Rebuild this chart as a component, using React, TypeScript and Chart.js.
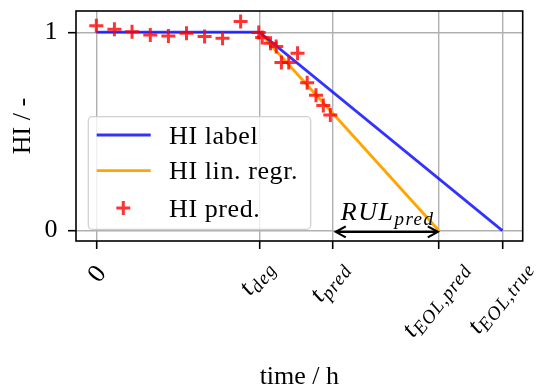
import React, { useEffect, useRef } from 'react';
import { Chart, registerables } from 'chart.js';

Chart.register(...registerables);

// ---- data ----
const T_DEG = 100;
const T_PRED = 145;
const T_EOL_PRED = 210;
const T_EOL_TRUE = 249;

const xTickValues = [0, T_DEG, T_PRED, T_EOL_PRED, T_EOL_TRUE];
const xTickMain = ['0', 't', 't', 't', 't'];
const xTickSub = ['', 'deg', 'pred', 'EOL,pred', 'EOL,true'];
const yTickValues = [0, 1];

const labelLineX = [0, T_DEG, T_EOL_TRUE];
const labelLineY = [1, 1, 0];
const regrLineX = [T_DEG, T_EOL_PRED];
const regrLineY = [1, 0];
const predX = [0, 11.1, 21.9, 33.1, 44.2, 55.3, 66.4, 77.4, 88.5, 99.6, 101.7, 106.8, 110.3, 113.5, 118.0, 123.4, 129.3, 134.7, 139.2, 143.5];
const predY = [1.032, 1.015, 1.003, 0.986, 0.981, 0.995, 0.978, 0.970, 1.054, 0.998, 0.973, 0.944, 0.928, 0.847, 0.847, 0.894, 0.745, 0.682, 0.631, 0.583];

const seriesLabels = ['HI label', 'HI lin. regr.', 'HI pred.'];
const rulArrowX = [T_PRED, T_EOL_PRED];
const rulArrowY = 0;
const rulMain = 'RUL';
const rulSub = 'pred';
const xTitle = 'time / h';
const yTitle = 'HI / -';

const X_MIN = -12.45;
const X_MAX = 261.45;
const Y_MIN = -0.0527;
const Y_MAX = 1.107;

// ---- style ----
const FONT = '"Liberation Serif", "Times New Roman", serif';
const FS = 26;
const SUB_FS = 19;
const ROT = (52 * Math.PI) / 180;
const BLUE = 'rgba(0,0,255,0.8)';
const ORANGE = '#FFA500';
const RED = 'rgba(255,0,0,0.8)';

function roundRect(ctx: CanvasRenderingContext2D, x: number, y: number, w: number, h: number, r: number) {
  ctx.beginPath();
  ctx.moveTo(x + r, y);
  ctx.lineTo(x + w - r, y);
  ctx.arcTo(x + w, y, x + w, y + r, r);
  ctx.lineTo(x + w, y + h - r);
  ctx.arcTo(x + w, y + h, x + w - r, y + h, r);
  ctx.lineTo(x + r, y + h);
  ctx.arcTo(x, y + h, x, y + h - r, r);
  ctx.lineTo(x, y + r);
  ctx.arcTo(x, y, x + r, y, r);
  ctx.closePath();
}

function setSpacing(ctx: any, v: string) {
  try { ctx.letterSpacing = v; } catch (e) { /* ignore */ }
}

const customPlugin = {
  id: 'customDecor',
  afterDatasetsDraw(chart: any) {
    const { ctx, chartArea: ca } = chart;
    const xs = chart.scales.x;
    const ys = chart.scales.y;
    ctx.save();
    // frame
    ctx.strokeStyle = '#000';
    ctx.lineWidth = 1.6;
    ctx.strokeRect(ca.left, ca.top, ca.right - ca.left, ca.bottom - ca.top);

    // RUL arrow
    const ax1 = xs.getPixelForValue(rulArrowX[0]) + 3;
    const ax2 = xs.getPixelForValue(rulArrowX[1]) - 1;
    const ay = ys.getPixelForValue(rulArrowY) + 1.3;
    ctx.strokeStyle = '#000';
    ctx.lineWidth = 2.2;
    ctx.lineCap = 'butt';
    ctx.beginPath();
    ctx.moveTo(ax1, ay);
    ctx.lineTo(ax2, ay);
    ctx.moveTo(ax1 + 10, ay - 5.5);
    ctx.lineTo(ax1, ay);
    ctx.lineTo(ax1 + 10, ay + 5.5);
    ctx.moveTo(ax2 - 10, ay - 5.5);
    ctx.lineTo(ax2, ay);
    ctx.lineTo(ax2 - 10, ay + 5.5);
    ctx.stroke();

    // RUL text
    ctx.fillStyle = '#000';
    ctx.textBaseline = 'alphabetic';
    ctx.textAlign = 'left';
    setSpacing(ctx, '1.5px');
    ctx.font = `italic ${FS}px ${FONT}`;
    const tx = xs.getPixelForValue(rulArrowX[0]) + 8;
    const ty = ys.getPixelForValue(rulArrowY) - 11;
    ctx.fillText(rulMain, tx, ty);
    const wm = ctx.measureText(rulMain).width;
    ctx.font = `italic ${SUB_FS}px ${FONT}`;
    ctx.fillText(rulSub, tx + wm, ty + 5.5);
    setSpacing(ctx, '0px');

    // legend
    const lw = 222.4;
    const lh = 112.6;
    const lx = ca.left + 12.3;
    const ly = ca.bottom - 11.7 - lh;
    ctx.fillStyle = 'rgba(255,255,255,0.8)';
    roundRect(ctx, lx, ly, lw, lh, 4);
    ctx.fill();
    ctx.strokeStyle = 'rgba(204,204,204,0.9)';
    ctx.lineWidth = 1.3;
    ctx.stroke();
    const rows = [18.3, 54, 91.3];
    chart.data.datasets.forEach((ds: any, i: number) => {
      const ry = ly + rows[i];
      if (i < 2) {
        ctx.strokeStyle = ds.borderColor;
        ctx.lineWidth = 2.8;
        ctx.beginPath();
        ctx.moveTo(lx + 8.4, ry);
        ctx.lineTo(lx + 62.4, ry);
        ctx.stroke();
      } else {
        ctx.strokeStyle = ds.borderColor;
        ctx.lineWidth = 3;
        const mx = lx + 35;
        ctx.beginPath();
        ctx.moveTo(mx - 7, ry);
        ctx.lineTo(mx + 7, ry);
        ctx.moveTo(mx, ry - 7);
        ctx.lineTo(mx, ry + 7);
        ctx.stroke();
      }
      ctx.fillStyle = '#000';
      setSpacing(ctx, '0.6px');
      ctx.font = `${FS}px ${FONT}`;
      ctx.textBaseline = 'alphabetic';
      ctx.fillText(ds.label, lx + 80.7, ry + 8.5);
      setSpacing(ctx, '0px');
    });
    ctx.restore();
  },
  afterDraw(chart: any) {
    const { ctx, chartArea: ca } = chart;
    const xs = chart.scales.x;
    ctx.save();
    ctx.fillStyle = '#000';
    ctx.textAlign = 'left';
    ctx.textBaseline = 'alphabetic';
    const cs = Math.cos(ROT);
    const sn = Math.sin(ROT);
    xTickValues.forEach((v, i) => {
      const px = xs.getPixelForValue(v);
      const main = xTickMain[i];
      const sub = xTickSub[i];
      const segs: any[] = [];
      segs.push({ text: main, font: (main === '0' ? '' : 'italic ') + `${FS}px ${FONT}`, dy: 0, sp: '0px' });
      if (sub) segs.push({ text: sub, font: `italic ${SUB_FS}px ${FONT}`, dy: 5, sp: '1px' });
      let ox = 0;
      let minX = Infinity, maxX = -Infinity, minY = Infinity, maxY = -Infinity;
      segs.forEach((s) => {
        ctx.font = s.font;
        setSpacing(ctx, s.sp);
        const m = ctx.measureText(s.text);
        s.ox = ox;
        const u0 = ox - m.actualBoundingBoxLeft;
        const u1 = ox + m.actualBoundingBoxRight;
        const v0 = s.dy - m.actualBoundingBoxAscent;
        const v1 = s.dy + m.actualBoundingBoxDescent;
        [[u0, v0], [u1, v0], [u0, v1], [u1, v1]].forEach(([u, vv]) => {
          const X = u * cs + vv * sn;
          const Y = -u * sn + vv * cs;
          minX = Math.min(minX, X); maxX = Math.max(maxX, X);
          minY = Math.min(minY, Y); maxY = Math.max(maxY, Y);
        });
        ox += m.width;
      });
      const topY = ca.bottom + 22;
      const tX = px - (minX + maxX) / 2;
      const tY = topY - minY;
      ctx.save();
      ctx.translate(tX, tY);
      ctx.rotate(-ROT);
      segs.forEach((s) => {
        ctx.font = s.font;
        setSpacing(ctx, s.sp);
        ctx.fillText(s.text, s.ox, s.dy);
      });
      ctx.restore();
    });
    setSpacing(ctx, '0px');
    ctx.restore();
  },
};

export default function App() {
  const canvasRef = useRef<HTMLCanvasElement | null>(null);

  useEffect(() => {
    const canvas = canvasRef.current;
    if (!canvas) return;
    const gridOpts = {
      color: '#b0b0b0',
      lineWidth: 1.4,
      drawTicks: true,
      tickLength: 8,
      tickColor: '#000',
      tickWidth: 1.6,
    };
    const chart = new Chart(canvas, {
      type: 'scatter',
      data: {
        datasets: [
          {
            label: seriesLabels[0],
            data: labelLineX.map((x, i) => ({ x, y: labelLineY[i] })),
            showLine: true,
            borderColor: BLUE,
            backgroundColor: BLUE,
            borderWidth: 2.8,
            pointRadius: 0,
            order: 1,
          },
          {
            label: seriesLabels[1],
            data: regrLineX.map((x, i) => ({ x, y: regrLineY[i] })),
            showLine: true,
            borderColor: ORANGE,
            backgroundColor: ORANGE,
            borderWidth: 2.8,
            pointRadius: 0,
            order: 2,
          },
          {
            label: seriesLabels[2],
            data: predX.map((x, i) => ({ x, y: predY[i] })),
            showLine: false,
            borderColor: RED,
            backgroundColor: RED,
            pointStyle: 'cross',
            pointRadius: 7,
            pointBorderWidth: 3,
            order: 0,
          },
        ],
      },
      options: {
        animation: false,
        responsive: false,
        devicePixelRatio: 1,
        layout: { padding: { top: 11, right: 13.3, left: 0, bottom: 0 } },
        plugins: { legend: { display: false }, tooltip: { enabled: false } },
        scales: {
          x: {
            type: 'linear',
            min: X_MIN,
            max: X_MAX,
            afterBuildTicks: (scale: any) => {
              scale.ticks = xTickValues.map((v) => ({ value: v }));
            },
            afterFit: (scale: any) => {
              scale.height = 149;
              scale.paddingLeft = 0;
              scale.paddingRight = 0;
            },
            ticks: { display: false },
            grid: gridOpts,
            border: { display: false },
            title: {
              display: true,
              text: xTitle,
              color: '#000',
              font: { family: FONT, size: FS },
              padding: { top: 0, bottom: -3 },
            },
          },
          y: {
            type: 'linear',
            min: Y_MIN,
            max: Y_MAX,
            afterBuildTicks: (scale: any) => {
              scale.ticks = yTickValues.map((v) => ({ value: v }));
            },
            afterFit: (scale: any) => {
              scale.width = 76;
              scale.paddingTop = 0;
              scale.paddingBottom = 0;
            },
            ticks: {
              color: '#000',
              font: { family: FONT, size: FS },
              padding: 10.5,
              callback: (v: any) => String(v),
            },
            grid: gridOpts,
            border: { display: false },
            title: {
              display: true,
              text: yTitle,
              color: '#000',
              font: { family: FONT, size: FS },
              padding: { top: 8, bottom: 0 },
            },
          },
        },
      },
      plugins: [customPlugin],
    } as any);
    return () => chart.destroy();
  }, []);

  return (
    <div style={{ position: 'fixed', left: 0, top: 0, width: 536, height: 390, background: '#fff' }}>
      <canvas ref={canvasRef} width={536} height={390} style={{ display: 'block' }} />
    </div>
  );
}
